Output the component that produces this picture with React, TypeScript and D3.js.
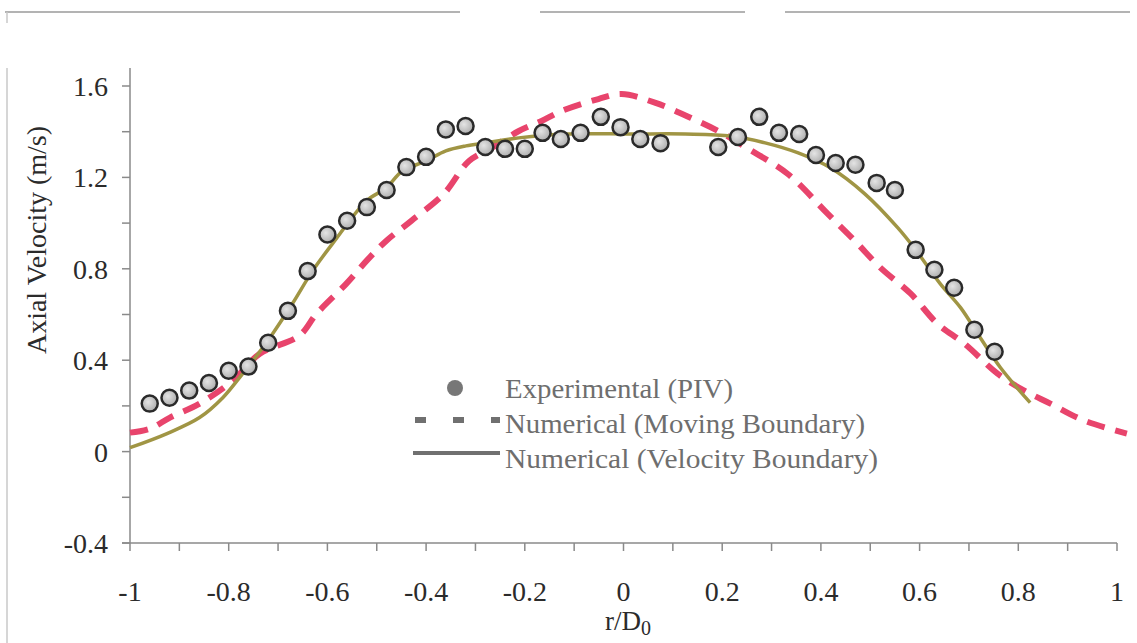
import React from "react";
import * as d3 from "d3";

// Experimental (PIV) points
const expX = [-0.96, -0.92, -0.88, -0.84, -0.8, -0.76, -0.72, -0.68, -0.64, -0.6, -0.56, -0.52, -0.48, -0.44, -0.4, -0.36, -0.32, -0.28, -0.24, -0.2, -0.164, -0.127, -0.087, -0.046, -0.006, 0.034, 0.075, 0.192, 0.232, 0.275, 0.315, 0.356, 0.39, 0.43, 0.47, 0.513, 0.55, 0.592, 0.63, 0.67, 0.711, 0.752];
const expY = [0.21, 0.236, 0.267, 0.3, 0.354, 0.372, 0.476, 0.616, 0.79, 0.95, 1.01, 1.07, 1.145, 1.245, 1.29, 1.41, 1.425, 1.333, 1.325, 1.325, 1.395, 1.368, 1.395, 1.465, 1.42, 1.368, 1.35, 1.333, 1.377, 1.465, 1.395, 1.39, 1.298, 1.263, 1.255, 1.176, 1.145, 0.883, 0.796, 0.717, 0.533, 0.437];

// Numerical (Moving Boundary)
const movX = [-1.0, -0.96, -0.919, -0.859, -0.792, -0.737, -0.657, -0.622, -0.562, -0.519, -0.481, -0.43, -0.364, -0.313, -0.267, -0.212, -0.166, -0.125, -0.051, -0.004, 0.065, 0.137, 0.192, 0.253, 0.333, 0.414, 0.469, 0.521, 0.582, 0.636, 0.691, 0.758, 0.812, 0.865, 0.933, 1.02];
const movY = [0.083, 0.1, 0.149, 0.21, 0.31, 0.428, 0.507, 0.603, 0.734, 0.839, 0.922, 1.01, 1.128, 1.272, 1.329, 1.403, 1.447, 1.491, 1.543, 1.565, 1.526, 1.46, 1.403, 1.325, 1.215, 1.04, 0.922, 0.804, 0.691, 0.56, 0.472, 0.341, 0.267, 0.21, 0.136, 0.079];

// Numerical (Velocity Boundary)
const velX = [-1.0, -0.925, -0.859, -0.812, -0.778, -0.743, -0.711, -0.671, -0.63, -0.59, -0.521, -0.481, -0.448, -0.4, -0.36, -0.319, -0.279, -0.212, -0.117, 0.016, 0.125, 0.218, 0.287, 0.354, 0.42, 0.489, 0.556, 0.592, 0.642, 0.683, 0.723, 0.764, 0.824];
const velY = [0.017, 0.079, 0.149, 0.236, 0.324, 0.42, 0.516, 0.647, 0.791, 0.909, 1.097, 1.154, 1.228, 1.272, 1.316, 1.338, 1.351, 1.373, 1.39, 1.39, 1.39, 1.381, 1.351, 1.307, 1.241, 1.128, 0.979, 0.883, 0.734, 0.63, 0.498, 0.367, 0.214];

const xTickLabels = ["-1", "-0.8", "-0.6", "-0.4", "-0.2", "0", "0.2", "0.4", "0.6", "0.8", "1"];
const yTickLabels = ["-0.4", "0", "0.4", "0.8", "1.2", "1.6"];
const legendLabels = ["Experimental (PIV)", "Numerical (Moving Boundary)", "Numerical (Velocity Boundary)"];

const W = 1137;
const H = 643;
const FONT =
  '"Liberation Serif", LiberationSerif, Tinos, "Times New Roman", Times, "Nimbus Roman", "Nimbus Roman No9 L", "DejaVu Serif", DejaVuSerif, "Noto Serif", FreeSerif, serif';

export default function App() {
  const x = d3.scaleLinear().domain([-1, 1]).range([130, 1117]);
  const y = d3.scaleLinear().domain([-0.4, 1.6]).range([543, 86]);

  const line = d3
    .line<[number, number]>()
    .x((d) => x(d[0]))
    .y((d) => y(d[1]))
    .curve(d3.curveCatmullRom.alpha(0.5));

  const movData: [number, number][] = movX.map((v, i) => [v, movY[i]]);
  const velData: [number, number][] = velX.map((v, i) => [v, velY[i]]);

  const minorX = d3.range(-1, 1.0001, 0.1);
  const minorY = d3.range(-0.4, 1.6001, 0.2);
  const tStyle = { fontFamily: FONT };

  return (
    <svg
      width={W}
      height={H}
      style={{ position: "absolute", left: 0, top: 0, background: "#fff", fontFamily: FONT }}
    >
      <defs>
        <radialGradient id="ptGrad" cx="40%" cy="40%" r="70%">
          <stop offset="0%" stopColor="#e4e4e4" />
          <stop offset="100%" stopColor="#a6a6a6" />
        </radialGradient>
      </defs>

      {/* frame fragments */}
      <g stroke="#9a9a9a" strokeWidth={1.5}>
        <line x1={5} y1={12} x2={460} y2={12} />
        <line x1={540} y1={12} x2={745} y2={12} />
        <line x1={785} y1={12} x2={1130} y2={12} />
        <line x1={7} y1={12} x2={7} y2={23} stroke="#c8c8c8" />
        <line x1={7} y1={68} x2={7} y2={643} stroke="#c8c8c8" />
      </g>

      {/* axes */}
      <g stroke="#8a8a8a" strokeWidth={1.5}>
        <line x1={x(-1)} y1={68} x2={x(-1)} y2={y(-0.4)} />
        <line x1={122} y1={y(-0.4)} x2={x(1)} y2={y(-0.4)} />
        {minorY.map((v, i) => (
          <line key={"yt" + i} x1={122} x2={x(-1)} y1={y(v)} y2={y(v)} />
        ))}
        {minorX.map((v, i) => (
          <line key={"xt" + i} x1={x(v)} x2={x(v)} y1={y(-0.4)} y2={y(-0.4) + 8} />
        ))}
      </g>

      {/* y tick labels */}
      <g fontSize={28} fill="#2b2b2b" textAnchor="end">
        {yTickLabels.map((t) => (
          <text key={t} x={108} y={y(+t) + 10} style={tStyle}>
            {t}
          </text>
        ))}
      </g>
      {/* x tick labels */}
      <g fontSize={28} fill="#2b2b2b" textAnchor="middle">
        {xTickLabels.map((t) => (
          <text key={t} x={x(+t)} y={601} style={tStyle}>
            {t}
          </text>
        ))}
      </g>

      {/* axis titles */}
      <text
        transform="translate(46,240) rotate(-90)"
        textAnchor="middle"
        fontSize={28}
        fill="#2b2b2b"
        style={tStyle}
      >
        Axial Velocity (m/s)
      </text>
      <text x={605} y={630} fontSize={27} fill="#2b2b2b" style={tStyle}>
        r/D
        <tspan fontSize={20} dy={5}>
          0
        </tspan>
      </text>

      {/* series */}
      <path
        d={line(movData) || ""}
        fill="none"
        stroke="#e8446c"
        strokeWidth={6}
        strokeDasharray="18 11"
      />
      <path d={line(velData) || ""} fill="none" stroke="#a09544" strokeWidth={3.5} />
      {expX.map((v, i) => (
        <circle
          key={"p" + i}
          cx={x(v)}
          cy={y(expY[i])}
          r={8}
          fill="url(#ptGrad)"
          stroke="#2a2a2a"
          strokeWidth={2.5}
        />
      ))}

      {/* legend */}
      <g>
        <circle cx={455} cy={388} r={8} fill="#777" />
        <line x1={415} x2={500} y1={420} y2={420} stroke="#707070" strokeWidth={6} strokeDasharray="11 27" />
        <line x1={413} x2={500} y1={453} y2={453} stroke="#707070" strokeWidth={4} />
        <g fontSize={27} fill="#6e6e6e">
          <text x={505} y={398} textLength={228} lengthAdjust="spacingAndGlyphs" style={tStyle}>
            {legendLabels[0]}
          </text>
          <text x={505} y={433} textLength={360} lengthAdjust="spacingAndGlyphs" style={tStyle}>
            {legendLabels[1]}
          </text>
          <text x={505} y={468} textLength={373} lengthAdjust="spacingAndGlyphs" style={tStyle}>
            {legendLabels[2]}
          </text>
        </g>
      </g>
    </svg>
  );
}
